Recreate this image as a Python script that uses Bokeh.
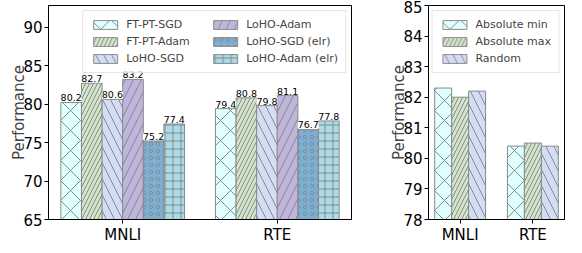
from bokeh.plotting import figure
from bokeh.layouts import row
from bokeh.models import FixedTicker, ColumnDataSource
from bokeh.core.properties import value
from bokeh.embed import file_html
from bokeh.resources import INLINE

# ---------------- data ----------------
categories = ["MNLI", "RTE"]

left_series = ["FT-PT-SGD", "FT-PT-Adam", "LoHO-SGD", "LoHO-Adam", "LoHO-SGD (elr)", "LoHO-Adam (elr)"]
left_values = {
    "FT-PT-SGD": [80.2, 79.4],
    "FT-PT-Adam": [82.7, 80.8],
    "LoHO-SGD": [80.6, 79.8],
    "LoHO-Adam": [83.2, 81.1],
    "LoHO-SGD (elr)": [75.2, 76.7],
    "LoHO-Adam (elr)": [77.4, 77.8],
}
left_yticks = [65, 70, 75, 80, 85, 90]

right_series = ["Absolute min", "Absolute max", "Random"]
right_values = {
    "Absolute min": [82.3, 80.4],
    "Absolute max": [82.0, 80.5],
    "Random": [82.2, 80.4],
}
right_yticks = [78, 79, 80, 81, 82, 83, 84, 85]

# ---------------- styles ----------------
FONT = "DejaVu Sans"
EDGE = "#8a8a8a"
left_styles = [
    ("#e0ffff", "x", 20),
    ("#d2e6cc", "/", 8),
    ("#d3def6", "\\", 16),
    ("#c0b6dd", "/", 16),
    ("#7aafd6", "o", 7),
    ("#a9dbe8", "+", 8),
]
right_styles = left_styles[:3]


def style_axes(p, ticks):
    p.xaxis.ticker = FixedTicker(ticks=list(range(len(categories))))
    p.xaxis.major_label_overrides = {i: c for i, c in enumerate(categories)}
    p.xaxis.axis_label = None
    p.yaxis.ticker = FixedTicker(ticks=ticks)
    for ax in (p.xaxis[0], p.yaxis[0]):
        ax.axis_line_color = "black"
        ax.major_tick_line_color = "black"
        ax.major_tick_out = 4
        ax.major_tick_in = 0
        ax.minor_tick_line_color = None
        ax.major_label_text_font = FONT
        ax.major_label_text_font_size = "15px"
        ax.major_label_text_color = "black"
        ax.major_label_standoff = 2
    p.yaxis.axis_label = "Performance"
    p.yaxis.axis_label_text_font = FONT
    p.yaxis.axis_label_text_font_size = "15px"
    p.yaxis.axis_label_text_font_style = "normal"
    p.yaxis.axis_label_standoff = -8
    p.xgrid.visible = False
    p.ygrid.visible = False
    p.outline_line_color = "black"
    p.outline_line_alpha = 1
    p.background_fill_color = "white"


def style_legend(p):
    lg = p.legend[0]
    lg.location = "top_right"
    lg.margin = 5
    lg.padding = 7
    lg.label_text_font = FONT
    lg.label_text_font_size = "11px"
    lg.glyph_width = 30
    lg.glyph_height = 11
    lg.label_height = 13
    lg.spacing = 4
    lg.label_standoff = 6
    lg.border_line_color = "#cccccc"
    lg.background_fill_alpha = 0.8


# ---------------- left figure ----------------
p1 = figure(frame_width=303, frame_height=214, x_range=(-0.48, 1.48), y_range=(65, 92.8),
            output_backend="svg", toolbar_location=None,
            min_border_left=48, min_border_right=13, min_border_top=5, min_border_bottom=0)
n = len(left_series)
w = 0.8 / n
xs = list(range(len(categories)))
label_x, label_y, label_t = [], [], []
for j, name in enumerate(left_series):
    color, hatch, scale = left_styles[j]
    bx = [x + (j - (n - 1) / 2) * w for x in xs]
    src = ColumnDataSource(dict(x=bx, top=left_values[name]))
    p1.vbar(x="x", top="top", bottom=65, width=w, source=src,
            fill_color=color, line_color=EDGE, line_width=1,
            hatch_pattern=hatch, hatch_color=EDGE, hatch_scale=scale, hatch_weight=1,
            legend_label=name)
    label_x += bx
    label_y += left_values[name]
    label_t += [f"{v:.1f}" for v in left_values[name]]

lab_src = ColumnDataSource(dict(x=label_x, y=label_y, t=label_t))
p1.text(x="x", y="y", text="t", source=lab_src, text_align="center", text_baseline="bottom",
        text_font=value(FONT), text_font_size="9.5px", text_color="black", y_offset=-1,
        background_fill_color="white", padding=0)

style_axes(p1, left_yticks)
style_legend(p1)
p1.legend[0].nrows = 3
p1.legend[0].label_width = 80

# ---------------- right figure ----------------
p2 = figure(frame_width=136, frame_height=214, x_range=(-0.435, 1.435), y_range=(78, 85),
            output_backend="svg", toolbar_location=None,
            min_border_left=64, min_border_right=2, min_border_top=5, min_border_bottom=0)
m = len(right_series)
w2 = 0.7 / m
for j, name in enumerate(right_series):
    color, hatch, scale = right_styles[j]
    bx = [x + (j - (m - 1) / 2) * w2 for x in xs]
    src = ColumnDataSource(dict(x=bx, top=right_values[name]))
    p2.vbar(x="x", top="top", bottom=78, width=w2, source=src,
            fill_color=color, line_color=EDGE, line_width=1,
            hatch_pattern=hatch, hatch_color=EDGE, hatch_scale=scale, hatch_weight=1,
            legend_label=name)

style_axes(p2, right_yticks)
style_legend(p2)

layout = row(p1, p2)
open("out.html", "w").write(file_html(layout, INLINE))
